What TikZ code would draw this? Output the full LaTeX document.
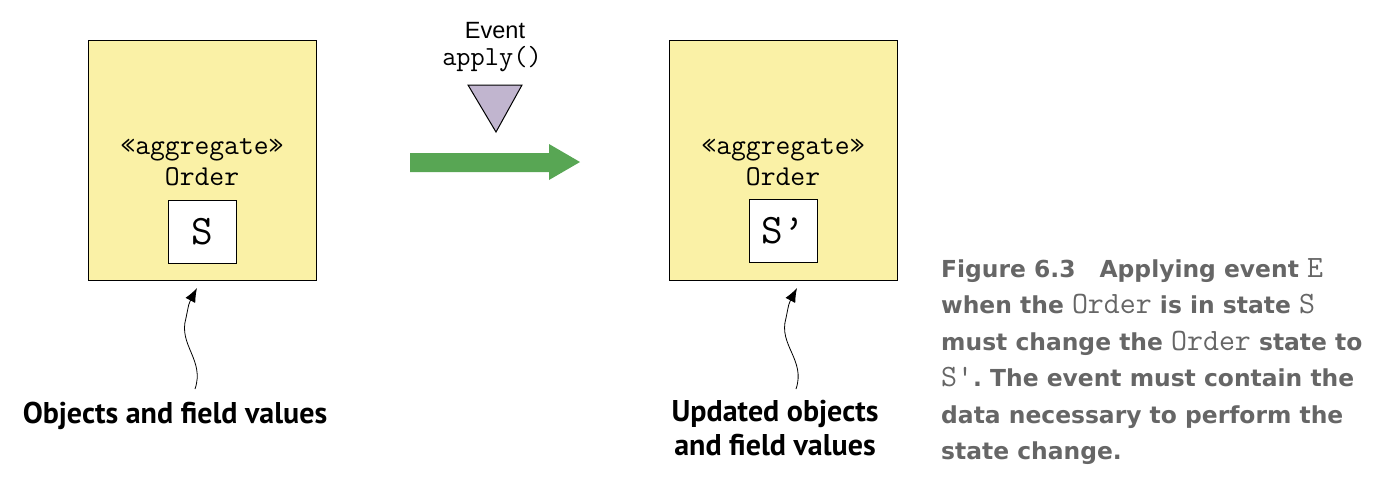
\documentclass[tikz,border=0pt]{standalone}
\usepackage{fontspec}
\setmainfont{Liberation Sans}
\newfontfamily\lblfont{PT Sans}
\newfontfamily\captfont{DejaVu Sans}
\usepackage{tikz}
\usetikzlibrary{arrows.meta,positioning}
\definecolor{aggyellow}{RGB}{250,241,166}
\definecolor{evtgreen}{RGB}{88,166,84}
\definecolor{evtlilac}{RGB}{193,181,207}
\definecolor{captgray}{RGB}{102,102,102}
\newcommand{\capmono}[1]{{\fontsize{31}{36.5}\selectfont\ttfamily\mdseries #1}}
\tikzset{
  aggbox/.style = {rectangle, draw=black, fill=aggyellow, line width=1pt,
    minimum width=228pt, minimum height=240pt, inner sep=0pt},% aggregat
  statebox/.style = {rectangle, draw=black, fill=white, line width=1pt,
    minimum width=68pt, minimum height=63pt, inner sep=0pt,
    font=\fontsize{42}{42}\selectfont\ttfamily},% etat
  aggtext/.style = {anchor=base, inner sep=0pt,
    font=\fontsize{28.8}{28.8}\selectfont\ttfamily},
  lbl/.style = {align=center, inner sep=0pt, text centered,
    font=\fontsize{30}{34}\selectfont\lblfont\bfseries},
  wavy/.style = {-{Latex[length=14pt,width=11pt]}, line width=0.8pt}
}

\begin{document}
\begin{tikzpicture}[x=1pt,y=-1pt]
  \useasboundingbox (0,0) rectangle (1392,496);
  % aggregat avant / apres
  \node [aggbox] (before) at (202,160) {};
  \node [aggtext] (bstereo) at (202,154) {«aggregate»};
  \node [aggtext] (bname) at (202,185) {Order};
  \node [statebox] (bstate) at (202,231.5) {S};
  \node [aggbox] (after) at (783,160) {};
  \node [aggtext] (astereo) at (783,154) {«aggregate»};
  \node [aggtext] (aname) at (783,185) {Order};
  \node [statebox] (astate) at (783,231) {S’};
  % evenement
  \node [anchor=base, inner sep=0pt, font=\fontsize{23.5}{23.5}\selectfont] (evt) at (495,38) {Event};
  \node [anchor=base, inner sep=0pt, font=\fontsize{27.6}{27.6}\selectfont\ttfamily] (apply) at (492,65) {apply()};
  \draw [fill=evtlilac, line width=1pt] (468,85) -- (522,85) -- (496,132) -- cycle;
  \fill [evtgreen] (410,153) -- (549,153) -- (549,144) -- (580,162)
    -- (549,180) -- (549,172) -- (410,172) -- cycle;
  % legendes
  \node [lbl, anchor=base] (blbl) at (175,423) {Objects and field values};
  \node [lbl, anchor=north] (albl) at (775,400) {Updated objects\\and field values};
  \coordinate (btip) at (197,288);
  \coordinate (bfoot) at (195,389);
  \coordinate (atip) at (797,288);
  \coordinate (afoot) at (796,389);
  \draw [wavy] (bfoot) .. controls (205,360) and (178,345) .. (186,318)
    .. controls (189,303) .. (btip);
  \draw [wavy] (afoot) .. controls (806,360) and (778,345) .. (786,318)
    .. controls (789,303) .. (atip);
  % legende de la figure
  \node [anchor=north west, inner sep=0pt, align=left, text=captgray,
    font=\fontsize{23.4}{36.5}\selectfont\captfont\bfseries] (capt) at (941,258)
    {Figure 6.3\hspace{24pt}Applying event \capmono{E}\\
     when the \capmono{Order} is in state \capmono{S}\\
     must change the \capmono{Order} state to\\
     \capmono{S'}. The event must contain the\\
     data necessary to perform the\\
     state change.};
\end{tikzpicture}
\end{document}
